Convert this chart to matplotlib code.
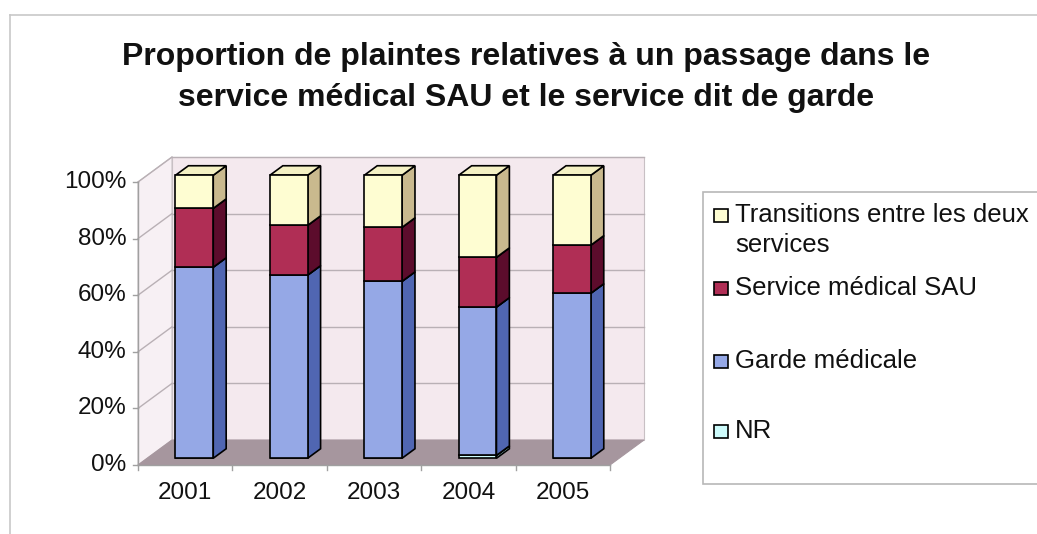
import matplotlib
matplotlib.use("Agg")
import matplotlib.pyplot as plt
from matplotlib.patches import Polygon, Rectangle
from matplotlib.lines import Line2D
import numpy as np

# ── Données (en %) ───────────────────────────────────────────────
annees      = ["2001", "2002", "2003", "2004", "2005"]
nr          = [0.0, 0.0, 0.0, 1.0, 0.0]
garde       = [67.5, 64.7, 62.5, 52.4, 58.3]
sau         = [20.8, 17.6, 19.1, 17.6, 17.0]
transitions = [11.7, 17.7, 18.4, 29.0, 24.7]

noms = ["NR", "Garde médicale", "Service médical SAU", "Transitions entre les deux\nservices"]
y_ticks = [0, 20, 40, 60, 80, 100]

# couleurs : face avant, côté, dessus
couleurs = [
    ("#cdfbfb", "#8fc4c4", "#e4ffff"),
    ("#95a8e6", "#5066b2", "#b8c6f0"),
    ("#b02e55", "#5c0c2c", "#c85a78"),
    ("#fefdd2", "#c9b98e", "#f4f1c4"),
]

plt.rcParams["font.family"] = ["Liberation Sans", "DejaVu Sans"]

W, H = 1037, 534
fig = plt.figure(figsize=(W / 100, H / 100), dpi=100)
fig.patch.set_facecolor("white")

# repère : x en catégories, y en % ; l'origine est le coin avant gauche du sol
px_cat, px_pct = 94.4, 2.83
x0_px, y0_px = 138, 465
ax = fig.add_axes([0, 0, 1, 1])
ax.set_xlim(-x0_px / px_cat, (W - x0_px) / px_cat)
ax.set_ylim(-(H - y0_px) / px_pct, y0_px / px_pct)
ax.axis("off")

# profondeur 3D
DX, DY = 34 / px_cat, 25 / px_pct
d0, d1 = 0.27, 0.65
n = len(annees)
grid_c = "#b9b0b5"

# ── Murs et sol ──────────────────────────────────────────────────
ax.add_patch(Polygon([(DX, DY), (n + DX, DY), (n + DX, 100 + DY), (DX, 100 + DY)],
                     facecolor="#f4e9ee", edgecolor="#c8c0c4", lw=0.8, zorder=1))
ax.add_patch(Polygon([(0, 0), (DX, DY), (DX, 100 + DY), (0, 100)],
                     facecolor="#f7f0f4", edgecolor="#c8c0c4", lw=0.8, zorder=1))
ax.add_patch(Polygon([(0, 0), (n, 0), (n + DX, DY), (DX, DY)],
                     facecolor="#a6969e", edgecolor="#a6969e", lw=0.8, zorder=2))
for v in y_ticks[1:]:
    ax.plot([DX, n + DX], [v + DY, v + DY], color=grid_c, lw=1.0, zorder=1.5)
    ax.plot([0, DX], [v, v + DY], color=grid_c, lw=1.0, zorder=1.5)

# ── Axes ─────────────────────────────────────────────────────────
ax.plot([0, 0], [0, 100], color="#a0a0a0", lw=1.0, zorder=3)
ax.plot([0, n], [0, 0], color="#a0a0a0", lw=1.0, zorder=3)
for v in y_ticks:
    ax.plot([-0.05, 0], [v, v], color="#a0a0a0", lw=1.0, zorder=3)
    ax.text(-0.12, v, f"{v}%", ha="right", va="center", fontsize=17.5, color="#111111")
for i in range(n + 1):
    ax.plot([i, i], [0, -1.8], color="#a0a0a0", lw=1.0, zorder=3)
for i, a in enumerate(annees):
    ax.text(i + 0.5, -10, a, ha="center", va="center", fontsize=17.5, color="#111111")

# ── Barres empilées ──────────────────────────────────────────────
largeur = 0.40
x_front = np.arange(n) + 0.5 + d0 * DX
ddx, ddy = (d1 - d0) * DX, (d1 - d0) * DY
valeurs = [nr, garde, sau, transitions]
cumul = np.zeros(n)
for k, serie in enumerate(valeurs):
    serie = np.array(serie)
    face, cote, dessus = couleurs[k]
    for i in range(n):
        if serie[i] <= 0:
            continue
        b = cumul[i] + d0 * DY
        t = b + serie[i]
        xr = x_front[i] + largeur / 2
        xl = x_front[i] - largeur / 2
        ax.add_patch(Polygon([(xr, b), (xr + ddx, b + ddy), (xr + ddx, t + ddy), (xr, t)],
                             facecolor=cote, edgecolor="black", lw=1.2, zorder=4))
        ax.add_patch(Polygon([(xl, t), (xr, t), (xr + ddx, t + ddy), (xl + ddx, t + ddy)],
                             facecolor=dessus, edgecolor="black", lw=1.2, zorder=4))
    ax.bar(x_front, serie, width=largeur, bottom=cumul + d0 * DY, color=face,
           edgecolor="black", linewidth=1.2, zorder=5)
    cumul += serie

# ── Titre ────────────────────────────────────────────────────────
fig.text(0.507, 1 - 57 / H, "Proportion de plaintes relatives à un passage dans le",
         ha="center", va="center", fontsize=23, fontweight="bold", color="#111111")
fig.text(0.507, 1 - 98 / H, "service médical SAU et le service dit de garde",
         ha="center", va="center", fontsize=23, fontweight="bold", color="#111111")

# ── Cadre du graphique ───────────────────────────────────────────
fig.add_artist(Line2D([10 / W, 10 / W], [0, 1 - 15 / H], transform=fig.transFigure,
                      color="#c8c8c8", lw=1.2))
fig.add_artist(Line2D([10 / W, 1], [1 - 15 / H, 1 - 15 / H], transform=fig.transFigure,
                      color="#c8c8c8", lw=1.2))

# ── Légende ──────────────────────────────────────────────────────
fig.add_artist(Rectangle((703 / W, 1 - 484 / H), (W + 10 - 703) / W, (484 - 192) / H,
                         transform=fig.transFigure, facecolor="white",
                         edgecolor="#b8b8b8", lw=1.2, zorder=6))
leg_y = [215, 288, 361, 431]
leg_ordre = [3, 2, 1, 0]
for yy, k in zip(leg_y, leg_ordre):
    fig.add_artist(Rectangle((714 / W, 1 - (yy + 7) / H), 14 / W, 13 / H,
                             transform=fig.transFigure, facecolor=couleurs[k][0],
                             edgecolor="black", lw=1.2, zorder=7))
    lignes = noms[k].split("\n")
    fig.text(735 / W, 1 - yy / H, lignes[0], ha="left", va="center", fontsize=18.5,
             color="#111111", zorder=7)
    if len(lignes) > 1:
        fig.text(735 / W, 1 - (yy + 30) / H, lignes[1], ha="left", va="center",
                 fontsize=18.5, color="#111111", zorder=7)

fig.savefig("out.png", dpi=100)
